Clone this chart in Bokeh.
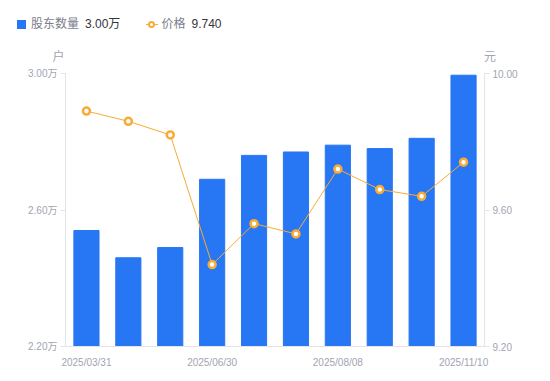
from bokeh.plotting import figure
from bokeh.layouts import column
from bokeh.models import Range1d, LinearAxis, FixedTicker, PrintfTickFormatter, Div
from bokeh.embed import file_html
from bokeh.resources import INLINE

dates = ["2025/03/31", "2025/04/20", "2025/05/20", "2025/06/30", "2025/07/10",
         "2025/07/20", "2025/08/08", "2025/09/30", "2025/10/20", "2025/11/10"]
holders = [2.54, 2.46, 2.49, 2.69, 2.76, 2.77, 2.79, 2.78, 2.81, 2.995]  # 万户
price = [9.89, 9.86, 9.82, 9.44, 9.56, 9.53, 9.72, 9.66, 9.64, 9.74]
shown_ticks = [0, 3, 6, 9]
left_ticks = [2.2, 2.6, 3.0]
right_ticks = [9.2, 9.6, 10.0]
legend_names = ["股东数量", "价格"]
legend_values = ["3.00万", "9.740"]
units = ["户", "元"]

BLUE = "#2776f4"
ORANGE = "#f8ab35"
AXIS = "#e3e4e8"
TICKTXT = "#a2a4b1"
FONT = "'Liberation Sans', Arial, 'Noto Sans CJK SC'"
W = 534
HH = 63

# ---------- header (legend + unit labels) ----------
def abs_span(left, top, content="", style=""):
    return (f'<span style="position:absolute;left:{left}px;top:{top}px;{style}">'
            f'{content}</span>')

txt = "line-height:15px;white-space:nowrap;font-size:12px;"
parts = [
    abs_span(16.5, 20, style=f"width:9px;height:9px;background:{BLUE};"),
    abs_span(31, 17, legend_names[0], txt + "color:#7b7e8a;"),
    abs_span(85, 17, legend_values[0], txt + "color:#33353d;"),
    abs_span(145.5, 23.75, style=f"width:12px;height:1.5px;background:{ORANGE};"),
    abs_span(148, 21, style=(f"width:7px;height:7px;box-sizing:border-box;"
                             f"border:2px solid {ORANGE};border-radius:50%;background:#fff;")),
    abs_span(161.5, 17, legend_names[1], txt + "color:#7b7e8a;"),
    abs_span(191.5, 17, legend_values[1], txt + "color:#33353d;"),
    abs_span(52.5, 49.5, units[0], txt + f"color:{TICKTXT};width:12px;text-align:center;"),
    abs_span(484, 49.5, units[1], txt + f"color:{TICKTXT};width:12px;text-align:center;"),
]
html = (f'<div style="position:relative;width:{W}px;height:{HH}px;'
        f'font-family:{FONT};margin:0;padding:0;">' + "".join(parts) + "</div>")
hdr = Div(text=html, width=W, height=HH, margin=0)

# ---------- main chart ----------
xs = list(range(len(dates)))
p = figure(width=W, height=373 - HH, output_backend="svg", toolbar_location=None,
           x_range=Range1d(-0.5, len(dates) - 0.5), y_range=Range1d(2.2, 3.0),
           min_border_left=65, min_border_right=50, min_border_top=10, min_border_bottom=27)
p.extra_y_ranges = {"price": Range1d(9.2, 10.0)}
p.outline_line_color = None
p.grid.visible = False

p.vbar(x=xs, top=holders, bottom=2.2, width=0.6, fill_color=BLUE, line_color=BLUE)
p.line(x=xs, y=price, y_range_name="price", line_color=ORANGE, line_width=1)
p.scatter(x=xs, y=price, y_range_name="price", size=7, fill_color="white",
          line_color=ORANGE, line_width=2.5)


def style_axis(ax):
    ax.axis_line_color = AXIS
    ax.major_tick_line_color = AXIS
    ax.minor_tick_line_color = None
    ax.major_tick_in = 0
    ax.major_tick_out = 5
    ax.major_label_text_color = TICKTXT
    ax.major_label_text_font_size = "10px"
    ax.major_label_text_font = FONT
    ax.major_label_standoff = 3


xa = p.xaxis[0]
style_axis(xa)
xa.major_tick_line_color = None
xa.ticker = FixedTicker(ticks=shown_ticks)
xa.major_label_overrides = {i: dates[i] for i in shown_ticks}
xa.major_label_standoff = 5

ya = p.yaxis[0]
style_axis(ya)
ya.ticker = FixedTicker(ticks=left_ticks)
ya.formatter = PrintfTickFormatter(format="%.2f万")

ra = LinearAxis(y_range_name="price")
style_axis(ra)
ra.ticker = FixedTicker(ticks=right_ticks)
ra.formatter = PrintfTickFormatter(format="%.2f")
p.add_layout(ra, "right")

layout = column(hdr, p, spacing=0)
open("out.html", "w").write(file_html(layout, INLINE))
